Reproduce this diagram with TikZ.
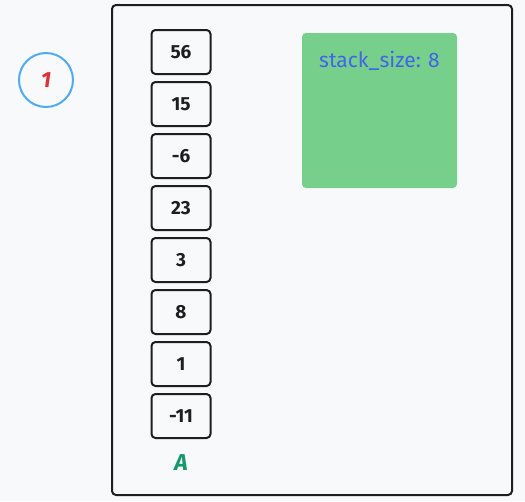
\documentclass[tikz,border=0pt]{standalone}
\usepackage{fontspec}
\setmainfont{Fira Sans}
\usetikzlibrary{positioning}
\definecolor{paper}{HTML}{F8F9FB}
\definecolor{ink}{HTML}{1E1E1E}
\definecolor{ringblue}{HTML}{4DABF7}
\definecolor{numred}{HTML}{E03131}
\definecolor{boxgreen}{HTML}{76CF8A}
\definecolor{labblue}{HTML}{4263EB}
\definecolor{labgreen}{HTML}{169A6A}
\begin{document}
\begin{tikzpicture}[x = 1pt, y = -1pt,
    cell/.style = {draw = ink, line width = 2pt, rounded corners = 4pt,
        minimum width = 59pt, minimum height = 44pt, inner sep = 0pt,
        font = \fontsize{19}{22}\selectfont\bfseries, text = ink},
    frame/.style = {draw = ink, line width = 2pt, rounded corners = 4pt}]
        \fill[paper] (0,0) rectangle (525,501);
        \useasboundingbox (0,0) rectangle (525,501);
        \draw[frame] (112,5) rectangle (512,495);
        \node[circle, draw = ringblue, line width = 2pt, minimum size = 54pt,
            text = numred, font = \fontsize{22}{24}\selectfont\itshape\bfseries] (step1) at (46,80) {1};
        \node[cell] (c1) at (181,52) {56};
        \node[cell, below = 6pt of c1] (c2) {15};
        \node[cell, below = 6pt of c2] (c3) {-6};
        \node[cell, below = 6pt of c3] (c4) {23};
        \node[cell, below = 6pt of c4] (c5) {3};
        \node[cell, below = 6pt of c5] (c6) {8};
        \node[cell, below = 6pt of c6] (c7) {1};
        \node[cell, below = 6pt of c7] (c8) {-11};
        \node[below = 12pt of c8, text = labgreen, font = \fontsize{23}{26}\selectfont\bfseries\itshape] (nameA) {A};
        \node[fill = boxgreen, rounded corners = 4pt, minimum width = 155pt, minimum height = 155pt,
            inner sep = 0pt] (info) at (379.5,110.5) {};
        \node[text = labblue, font = \fontsize{21}{24}\selectfont, below = 15pt of info.north] (size) {stack\_size: 8};
\end{tikzpicture}
\end{document}
